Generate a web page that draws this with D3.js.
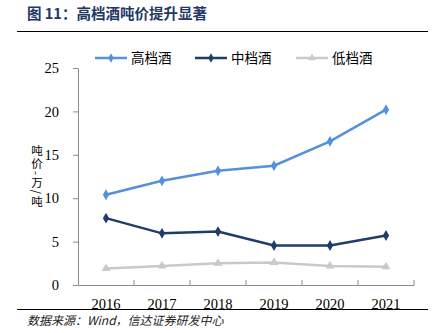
<!DOCTYPE html>
<html><head><meta charset="utf-8">
<script src="https://cdn.jsdelivr.net/npm/d3@7"></script>
<style>
body{margin:0;background:#fff;}
svg{display:block;}
.tick text{font-family:"Liberation Serif","Times New Roman",serif;font-size:14.5px;fill:#000;}
</style></head>
<body><svg id="chart" width="441" height="333"></svg>
<script>
const years = ['2016','2017','2018','2019','2020','2021'];
const high  = [10.4, 12.0, 13.15, 13.75, 16.55, 20.2];
const mid   = [7.7, 5.95, 6.15, 4.55, 4.55, 5.7];
const low   = [1.9, 2.2, 2.5, 2.6, 2.2, 2.1];
const yTicks = [0,5,10,15,20,25];
const seriesNames = ['高档酒','中档酒','低档酒'];
const yLabel = '吨价-万/吨';

const SERIES = [
  {name:seriesNames[0], vals:high, color:'#5590db', sym:d3.symbolDiamond},
  {name:seriesNames[1], vals:mid,  color:'#1f3d69', sym:d3.symbolDiamond},
  {name:seriesNames[2], vals:low,  color:'#c9c9c9', sym:d3.symbolTriangle}
];

const svg = d3.select('#chart');
const cjk = '"Noto Sans CJK SC","Noto Sans",sans-serif';

// title + rules
svg.append('text').attr('x',27).attr('y',19).attr('fill','#1f3864')
  .attr('font-family',cjk).attr('font-weight','bold').attr('font-size',14.5)
  .text('图 11：高档酒吨价提升显著');
svg.append('line').attr('x1',17).attr('x2',428).attr('y1',31.5).attr('y2',31.5).attr('stroke','#000').attr('stroke-width',1.2);
svg.append('line').attr('x1',17).attr('x2',428).attr('y1',309.5).attr('y2',309.5).attr('stroke','#000').attr('stroke-width',1.2);
svg.append('text').attr('x',27).attr('y',325).attr('font-family',cjk).attr('font-style','italic')
  .attr('font-size',12).attr('fill','#222').text('数据来源：Wind，信达证券研发中心');

const x = d3.scaleBand().domain(years).range([78,414]);
const y = d3.scaleLinear().domain([0,25]).range([285,68]);

// y axis
const ya = svg.append('g').attr('transform','translate(78,0)')
  .call(d3.axisLeft(y).tickValues(yTicks).tickSize(5).tickPadding(14).tickSizeOuter(0));
ya.select('.domain').attr('stroke','#8c8c8c');
ya.selectAll('.tick line').attr('stroke','#8c8c8c');

// x axis with ticks at band edges
const xa = svg.append('g').attr('transform','translate(0,285)')
  .call(d3.axisBottom(x).tickSize(0).tickPadding(14).tickSizeOuter(0));
xa.select('.domain').attr('stroke','#8c8c8c');
xa.selectAll('.edge').data(years).join('line')
  .attr('x1',d=>x(d)+x.step()).attr('x2',d=>x(d)+x.step())
  .attr('y1',0).attr('y2',-5).attr('stroke','#8c8c8c');

// y label, vertical
svg.append('text').attr('x',37).attr('y',145).attr('font-family',cjk).attr('font-size',11.5)
  .style('writing-mode','vertical-rl').style('letter-spacing','1.5px')
  .attr('fill','#000').text(yLabel);

const cx = d => x(d)+x.bandwidth()/2;
const line = d3.line().x((d,i)=>cx(years[i])).y(d=>y(d));

SERIES.slice().reverse().forEach(s=>{
  svg.append('path').datum(s.vals).attr('d',line).attr('fill','none')
    .attr('stroke',s.color).attr('stroke-width',2.5);
  svg.append('g').selectAll('path').data(s.vals).join('path')
    .attr('transform',(d,i)=>`translate(${cx(years[i])},${y(d)})`)
    .attr('d',d3.symbol(s.sym,34)).attr('fill',s.color);
});

// legend
const lx = [95,195,296];
SERIES.forEach((s,i)=>{
  const g = svg.append('g').attr('transform',`translate(${lx[i]},58)`);
  g.append('line').attr('x1',0).attr('x2',32).attr('stroke',s.color).attr('stroke-width',2.5);
  g.append('path').attr('transform','translate(16,0)').attr('d',d3.symbol(s.sym,26)).attr('fill',s.color);
  g.append('text').attr('x',36).attr('y',5).attr('font-family',cjk).attr('font-size',13.5).text(s.name);
});
</script></body></html>
